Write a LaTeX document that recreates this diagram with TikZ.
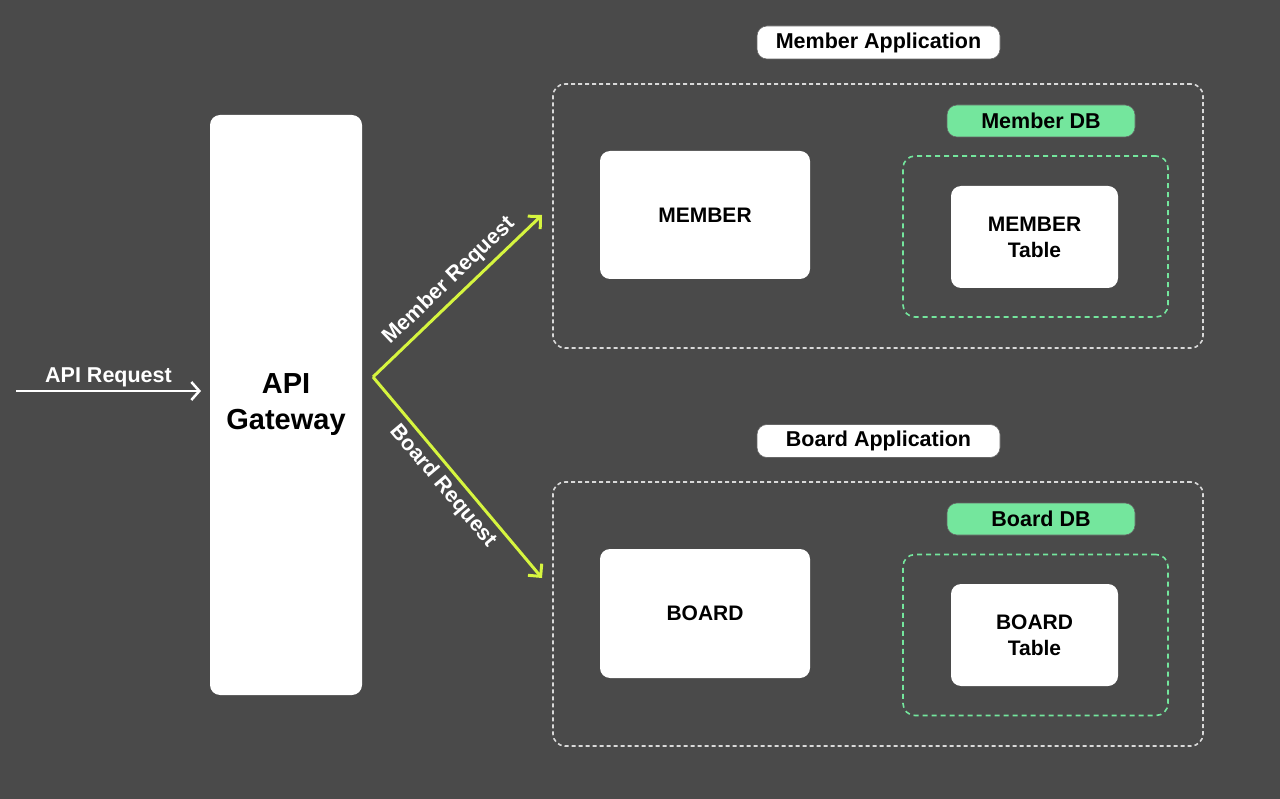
\documentclass[tikz,border=0pt]{standalone}
\usepackage{fontspec}
\setmainfont{Liberation Sans}
\usetikzlibrary{arrows.meta,positioning}
\definecolor{bg}{HTML}{4A4A4A}
\definecolor{lime}{HTML}{D6F53F}
\definecolor{mint}{HTML}{74E69D}
\tikzset{
  whitebox/.style={draw=none,fill=white,rounded corners=10pt,inner sep=0pt,align=center,font=\fontsize{21}{26}\selectfont\bfseries},
  pill/.style={draw=black!60,line width=0.6pt,fill=white,rounded corners=10pt,inner sep=0pt,minimum width=243pt,minimum height=33pt,font=\fontsize{21.5}{24}\selectfont\bfseries},
  dbpill/.style={pill,fill=mint,minimum width=188pt,minimum height=32pt},
  appframe/.style={draw=white!85!black,dashed,dash pattern=on 4pt off 3pt,line width=1.6pt,rounded corners=12pt,inner sep=0pt,minimum width=650pt,minimum height=264pt},
  dbframe/.style={draw=mint,dash pattern=on 5pt off 4pt,line width=1.6pt,rounded corners=12pt,inner sep=0pt,minimum width=265pt,minimum height=161pt},
  flow/.style={lime,line width=3pt,-{Straight Barb[length=9pt,width=18pt,line width=3pt]}},
  req/.style={white,line width=2.5pt,-{Straight Barb[length=8pt,width=18pt,line width=2.5pt]}},
  lbl/.style={text=white,font=\fontsize{21.5}{24}\selectfont\bfseries,inner sep=2pt}
}
\begin{document}
\begin{tikzpicture}[x=1pt,y=-1pt]
\fill[bg] (0,0) rectangle (1280,799);
\useasboundingbox (0,0) rectangle (1280,799);
% gateway
\node[whitebox,minimum width=152pt,minimum height=580pt,font=\fontsize{29}{36}\selectfont\bfseries] (gw) at (286,405) {API\\Gateway};
% api request
\coordinate (apistart) at (16,391);
\coordinate (apiend) at (201,391);
\draw[req] (apistart) -- node[lbl,above=1pt] (apilbl) {API Request} (apiend);
% fork
\coordinate (fork) at (373,377);
\coordinate (mend) at (542,215);
\coordinate (bend) at (542,578);
\draw[flow] (fork) -- node[lbl,sloped,above=3pt,pos=0.52] (mlbl) {Member Request} (mend);
\draw[flow] (fork) -- node[lbl,sloped,below=3pt,pos=0.49] (blbl) {Board Request} (bend);
% member application
\node[pill] (mapp) at (878.5,42.5) {Member Application};
\node[appframe] (mframe) at (878,216) {};
\node[dbpill] (mdb) at (1041,121) {Member DB};
\node[dbframe] (mdbf) at (1035.5,236.5) {};
\node[whitebox,minimum width=167pt,minimum height=102pt] (mtable) at (1034.5,237) {MEMBER\\Table};
\node[whitebox,minimum width=210pt,minimum height=128pt] (member) at (705,215) {MEMBER};
% board application
\node[pill] (bapp) at (878.5,441) {Board Application};
\node[appframe] (bframe) at (878,614) {};
\node[dbpill] (bdb) at (1041,519) {Board DB};
\node[dbframe] (bdbf) at (1035.5,635) {};
\node[whitebox,minimum width=167pt,minimum height=102pt] (btable) at (1034.5,635) {BOARD\\Table};
\node[whitebox,minimum width=210pt,minimum height=129pt] (board) at (705,613.5) {BOARD};
\end{tikzpicture}
\end{document}
